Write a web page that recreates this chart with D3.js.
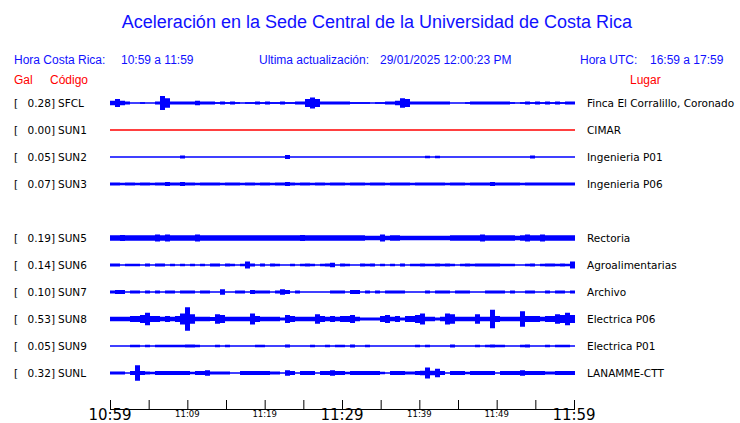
<!DOCTYPE html>
<html><head><meta charset="utf-8">
<script src="https://cdn.jsdelivr.net/npm/d3@7"></script>
<style>body{margin:0;background:#fff}svg{display:block}</style>
</head><body><svg id="c" width="740" height="423"></svg>
<script>
// ---------- data ----------
const codes  = ["SFCL","SUN1","SUN2","SUN3","SUN5","SUN6","SUN7","SUN8","SUN9","SUNL"];
const slots  = [0,1,2,3,5,6,7,8,9,10];           // SUN4 slot is empty
const peaks  = ["0.28","0.00","0.05","0.07","0.19","0.14","0.10","0.53","0.05","0.32"];
const places = ["Finca El Corralillo, Coronado","CIMAR","Ingenieria P01","Ingenieria P06","Rectoria",
                "Agroalimentarias","Archivo","Electrica P06","Electrica P01","LANAMME-CTT"];
const tickMinutes = [0,5,10,15,20,25,30,35,40,45,50,55,60];
const tickLabels  = ["10:59","","11:09","","11:19","","11:29","","11:39","","11:49","","11:59"];
const bigLabels   = ["10:59","11:29","11:59"];
const startTime = new Date(2025,0,29,10,59);
const endTime   = new Date(2025,0,29,11,59);

// envelope amplitude per time bin (93 bins over the hour)
const SFCL = [3,5,3,2,0,0,1,0,0,2, 9,6,2,2,2,2,2,3,2,2, 2,1,2,1,2,1,0,1,1,2, 1,2,1,1,2,1,1,2,2,5,
  7,5,2,2,2,2,2,2,1,1, 1,1,0,1,1,2,2,3,6,5, 2,2,2,2,2,2,2,2,0,0, 0,1,2,2,2,2,2,2,2,2, 1,0,1,2,1,2,1,2,1,2, 1,2,2];
const SUN1 = [0,0,0,0,0,0,0,0,0,0, 0,0,0,0,0,0,0,0,0,0, 0,0,0,0,0,0,0,0,0,0, 0,0,0,0,0,0,0,0,0,0,
  0,0,0,0,0,0,0,0,0,0, 0,0,0,0,0,0,0,0,0,0, 0,0,0,0,0,0,0,0,0,0, 0,0,0,0,0,0,0,0,0,0, 0,0,0,0,0,0,0,0,0,0, 0,0,0];
const SUN2 = [0,0,0,0,0,0,0,0,0,0, 0,0,0,0,2,0,0,0,0,0, 0,0,0,0,0,0,0,0,0,0, 0,0,0,0,0,2.5,0,0,0,0,
  0,0,0,0,0,0,0,0,0,0, 0,0,0,0,0,0,0,0,0,0, 0,0,0,1.5,0,1.5,0,0,0,0, 0,0,0,0,0,0,0,0,0,0, 0,0,0,0,2,0,0,0,0,0, 0,0,0];
const SUN3 = [2,2,1.5,2,2,1.5,2,2,1.5,2, 2,2.5,2,2,2.5,2,2,1.5,2,2, 2,2,1.5,2,2,2,1.5,2,2,1.5, 2,2,1.5,2,2,2.5,2,1.5,2,2,
  1.5,2,2,1.5,2,2,2,1.5,2,2, 2,1.5,2,2,2,1.5,2,2,2,2, 1.5,2,2,2,2,2,2,1.5,2,2, 2,1.5,2,2,2,2,2.5,2,2,2, 2,2,1.5,2,2,2,2,2,2,2, 2,2,2];
const SUN5 = [3.5,3.5,4,3.5,3.5,3.5,3.5,3.5,3.5,4.5, 3.5,4.5,3.5,3.5,3.5,3.5,3.5,4.5,3.5,3.5, 3.5,3.5,3.5,3.5,3.5,3.5,3.5,3.5,3.5,3.5,
  3.5,3.5,3.5,3.5,3.5,3.5,3.5,3.5,4,3.5, 3.5,3.5,3.5,3.5,3.5,3.5,3.5,3.5,3.5,3.5, 3.5,3,3,3,4.5,3,3.5,3.5,3,3,
  3,3,3,3,3,3,3,3,3.5,3.5, 3.5,3.5,3.5,3.5,4.5,3.5,3.5,3.5,3.5,3.5, 3.5,3,3.5,4.5,3.5,3.5,4.5,3.5,3.5,3.5, 3.5,3.5,3.5];
const SUN6 = [2,2,0,1.5,1.5,1.5,0,2,0,2, 2,0,1.5,0,1.5,0,1.5,0,1.5,0, 2,2,0,2,1.5,0,1.5,4.5,2,0, 2,0,2,1.5,0,0,1.5,0,1.5,2,
  1.5,0,1.5,2,3,0,2,1.5,0,0, 2,1.5,2,0,1.5,0,1.5,0,2,0, 1.5,1.5,2,1.5,1.5,2,1.5,2,1.5,0, 1.5,2,1.5,2,2,2,2,2,1.5,1.5,
  1.5,0,0,1.5,2,0,1.5,2,2,1.5, 2,1.5,4.5];
const SUN7 = [2,2.5,2.5,0,2,2,0,2,0,2, 0,2,2,0,2,2,2,0,2,2, 0,0,3.5,0,0,2,2,0,2.5,2, 2,2,0,2,3.5,2.5,0,2,0,0,
  0,0,0,0,2,2,2,0,2.5,2.5, 0,2,0,2,0,2,2,2,2,0, 0,0,0,2,0,2,2,2,0,2, 2,2,0,0,0,2,2,2,2,0, 2,0,0,2,2,0,0,2,0,2, 2,0,2];
const SUN8 = [3,3,3,3,4,4,5,8,4,4, 3,4,3,4,7,15,6,3,3,3, 2.5,6,5,3,3,3,3,3,7,4, 3,3,3,3,2,5,4,3,3,3,
  3,6,4,3,4,3,4,4,5,3, 2,2,2,2,4,5,3,4,2,4, 4,5,7,3,3,2,3,7,6,3, 3,3,3,6,3,3,12,4,3,3, 3,3,10,4,4,4,3,4,4,6, 5,8,5];
const SUN9 = [0,0,0,0,1.5,1.5,0,1.5,0,1.5, 1.5,1.5,1.5,1.5,1.5,2,2,1.5,0,0, 0,1.5,0,1.5,0,0,0,0,0,1.5, 1.5,0,0,0,0,2,0,0,0,0,
  1.5,0,0,1.5,0,1.5,1.5,0,2,0, 0,1.5,0,0,0,0,0,0,0,0, 0,1.5,0,1.5,0,0,0,0,2,0, 0,0,0,1.5,0,1.5,2,1.5,1.5,0, 0,0,1.5,2,0,0,0,1.5,0,1.5, 1.5,1.5,0];
const SUNL = [2,2,2,0,2.5,10,2.5,2,1.5,2.5, 2.5,2.5,2.5,2.5,2.5,2.5,1.5,2.5,2.5,3.5, 2,2,2,2,0,0,2.5,2.5,2.5,2.5,
  2.5,2.5,2,2,0,3.5,2.5,0,2.5,2.5, 2.5,0,2.5,2.5,3.5,2.5,2.5,1.5,2.5,2.5, 2.5,2.5,2.5,2.5,1.5,0,2.5,2.5,2.5,2,
  2,2.5,3,7,3,5.5,2.5,0,2.5,2.5, 2.5,1.5,2.5,2.5,2.5,2.5,2.5,0,2.5,2.5, 2.5,2.5,3.5,2.5,2.5,2.5,2.5,2,2,2.5, 2.5,2.5,2.5];
const traces = [SFCL,SUN1,SUN2,SUN3,SUN5,SUN6,SUN7,SUN8,SUN9,SUNL];
const traceColors = ["#0000ff","#ff0000","#0000ff","#0000ff","#0000ff","#0000ff","#0000ff","#0000ff","#0000ff","#0000ff"];

// ---------- drawing ----------
const svg = d3.select("#c");
const blue = "#1010ff", red = "#ff0000";
const sans = "'Liberation Sans', Arial, sans-serif";
const dv = "'DejaVu Sans', sans-serif";

const x = d3.scaleTime().domain([startTime, endTime]).range([110, 574]);
const y = d3.scalePoint().domain(d3.range(11)).range([103, 373]);
const nBins = SFCL.length;
const xb = d3.scaleLinear().domain([0, nBins]).range([x(startTime), x(endTime) + 1]);
const amp = d3.scaleLinear().domain([0, 10]).range([0, 7.8]);

svg.append("text").attr("x", 377).attr("y", 28).attr("text-anchor", "middle")
  .attr("font-family", sans).attr("font-size", 18).attr("fill", blue)
  .text("Aceleración en la Sede Central de la Universidad de Costa Rica");

const hdr = [["Hora Costa Rica:",14],["10:59 a 11:59",121],["Ultima actualización:",259],
             ["29/01/2025 12:00:23 PM",380],["Hora UTC:",580],["16:59 a 17:59",650]];
svg.selectAll("text.h").data(hdr).join("text").attr("class","h")
  .attr("x", d => d[1]).attr("y", 64).attr("font-family", sans).attr("font-size", 12)
  .attr("fill", blue).text(d => d[0]);
const red1 = [["Gal",14],["Código",50],["Lugar",630]];
svg.selectAll("text.r").data(red1).join("text").attr("class","r")
  .attr("x", d => d[1]).attr("y", 84).attr("font-family", sans).attr("font-size", 12)
  .attr("fill", red).text(d => d[0]);

const rows = svg.selectAll("g.row").data(codes).join("g").attr("class","row")
  .attr("transform", (d,i) => `translate(0,${y(slots[i])})`);
const lab = {"font-family": dv, "font-size": 10.5, "fill": "#000"};
function applyAttrs(sel, o){ for (const k in o) sel.attr(k, o[k]); return sel; }
applyAttrs(rows.append("text").attr("x", 14).attr("y", 4).text("["), lab);
applyAttrs(rows.append("text").attr("x", 55).attr("y", 4).attr("text-anchor","end").text((d,i) => peaks[i] + "]"), lab);
applyAttrs(rows.append("text").attr("x", 58).attr("y", 4).text(d => d), lab);
applyAttrs(rows.append("text").attr("x", 587).attr("y", 4).text((d,i) => places[i]), lab);

// envelope drawn as a stepped band, one step per bin
const area = d3.area().curve(d3.curveStepAfter)
  .x((d,i) => xb(i)).y0(d => -amp(d)).y1(d => amp(d));
rows.append("path")
  .attr("d", (d,i) => area(traces[i].concat([traces[i][nBins-1]])))
  .attr("fill", (d,i) => traceColors[i]);
rows.append("line").attr("x1", xb(0)).attr("x2", xb(nBins)).attr("y1", 0).attr("y2", 0)
  .attr("stroke", (d,i) => traceColors[i]).attr("stroke-width", 1.4);

// time axis
const axisY = 409;
const ticks = tickMinutes.map(m => d3.timeMinute.offset(startTime, m));
const axis = d3.axisTop(x).tickValues(ticks).tickSize(9).tickFormat("");
const ag = svg.append("g").attr("transform", `translate(0,${axisY})`).call(axis);
ag.select(".domain").attr("d", `M${x(startTime)},0.5H${x(endTime)+1}`).attr("stroke","#000");
ag.selectAll(".tick line").attr("stroke","#000");
svg.selectAll("text.t").data(ticks).join("text").attr("class","t")
  .attr("x", d => x(d)).attr("text-anchor","middle")
  .attr("y", (d,i) => bigLabels.includes(tickLabels[i]) ? 420 : 417)
  .attr("font-family", dv)
  .attr("font-size", (d,i) => bigLabels.includes(tickLabels[i]) ? 15 : 8.5)
  .attr("fill","#000").text((d,i) => tickLabels[i]);
</script></body></html>
